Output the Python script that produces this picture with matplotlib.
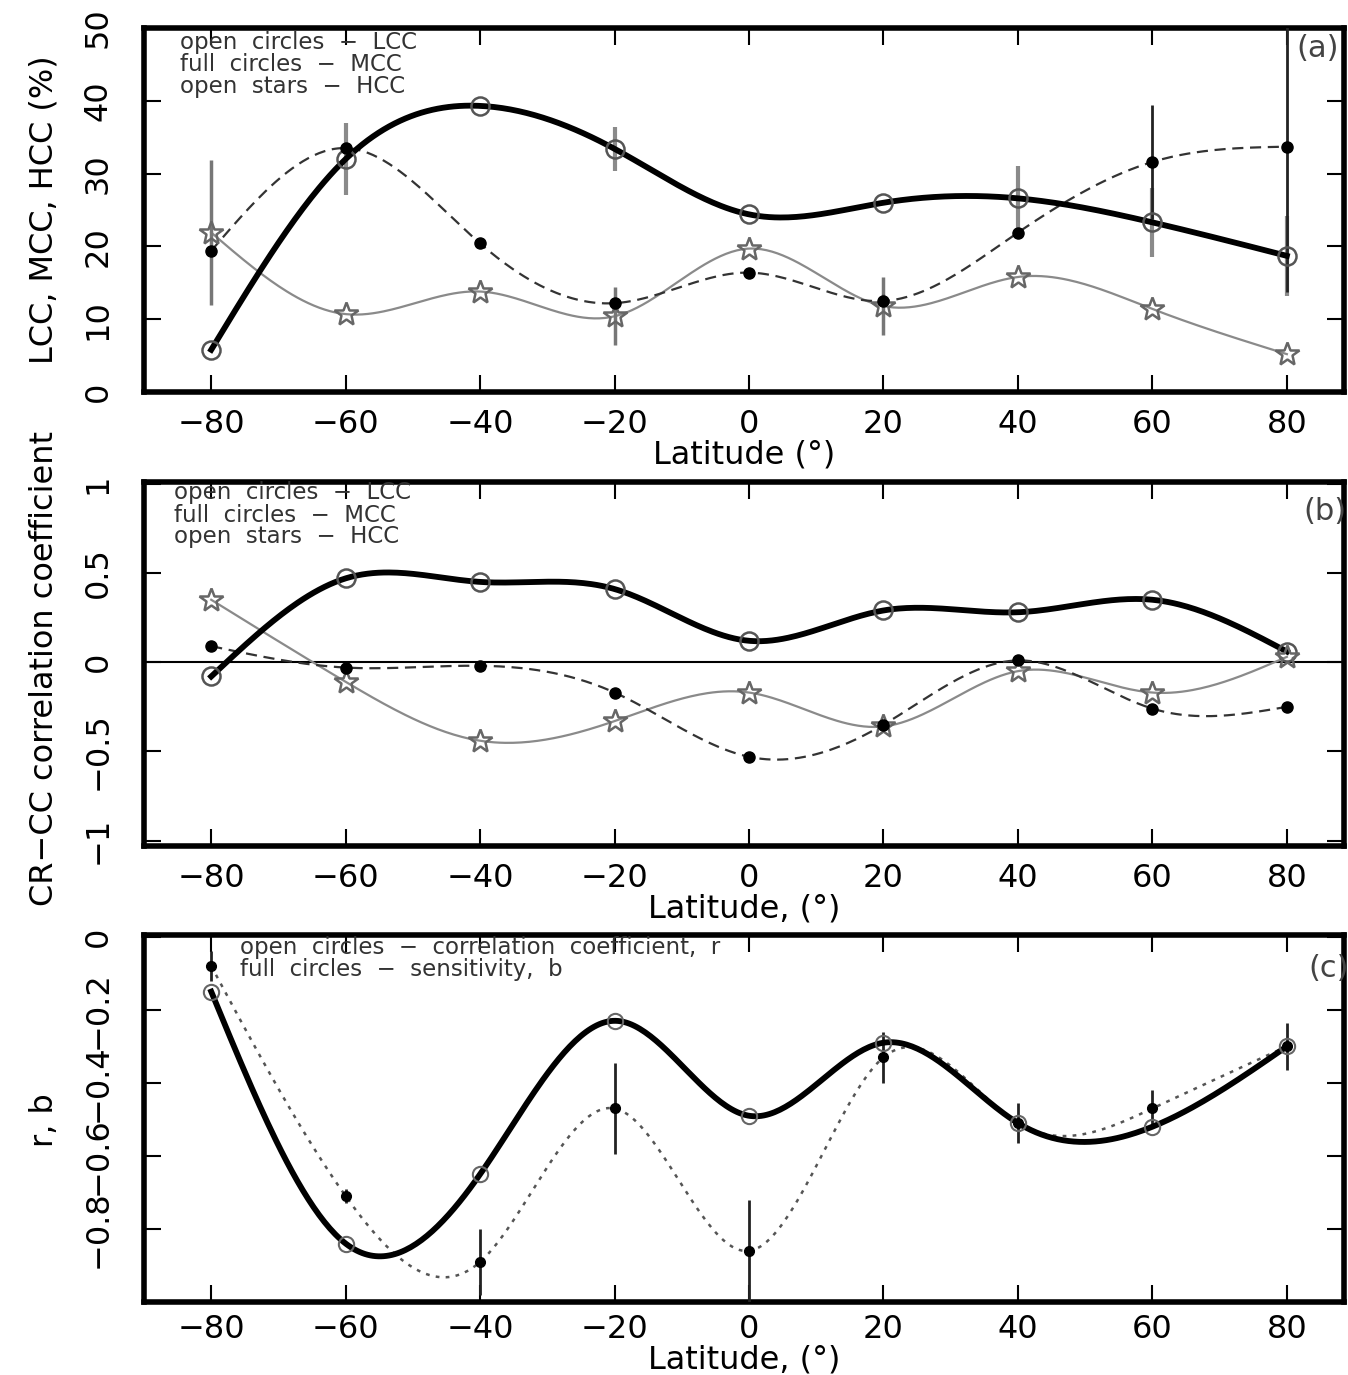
import numpy as np
import matplotlib
matplotlib.use("Agg")
import matplotlib.pyplot as plt

# ============= data =============
lat = np.array([-80, -60, -40, -20, 0, 20, 40, 60, 80])

# (a) cloud cover, %
lcc = [5.8, 32.0, 39.3, 33.4, 24.4, 26.0, 26.6, 23.3, 18.7]
mcc = [19.4, 33.5, 20.4, 12.2, 16.4, 12.5, 21.9, 31.6, 33.7]
hcc = [21.9, 10.7, 13.8, 10.4, 19.7, 11.8, 15.8, 11.4, 5.2]
lcc_err = [0, 5.0, 0, 3.0, 0, 0, 4.5, 4.7, 5.5]
mcc_err = [0, 0, 0, 0, 0, 0, 0, 7.8, 20.0]
hcc_err = [10.0, 0, 0, 4.0, 0, 4.0, 0, 0, 0]

# (b) CR-CC correlation coefficient
lcc_r = [-0.08, 0.47, 0.45, 0.41, 0.12, 0.29, 0.28, 0.35, 0.06]
mcc_r = [0.09, -0.03, -0.02, -0.17, -0.53, -0.35, 0.01, -0.26, -0.25]
hcc_r = [0.35, -0.11, -0.44, -0.33, -0.17, -0.36, -0.05, -0.17, 0.03]

# (c) correlation coefficient r and sensitivity b
r_val = [-0.15, -0.84, -0.65, -0.23, -0.49, -0.29, -0.51, -0.52, -0.30]
b_val = [-0.08, -0.71, -0.89, -0.47, -0.86, -0.33, -0.51, -0.47, -0.30]
b_err = [0.04, 0.02, 0.09, 0.125, 0.14, 0.07, 0.055, 0.05, 0.065]

xticks = [-80, -60, -40, -20, 0, 20, 40, 60, 80]


def smooth(x, y, n=400):
    """natural cubic spline through the points, only used to draw the curve"""
    x = np.asarray(x, float)
    y = np.asarray(y, float)
    h = np.diff(x)
    k = len(x)
    A = np.zeros((k, k))
    rhs = np.zeros(k)
    A[0, 0] = A[-1, -1] = 1
    for i in range(1, k - 1):
        A[i, i - 1] = h[i - 1]
        A[i, i] = 2 * (h[i - 1] + h[i])
        A[i, i + 1] = h[i]
        rhs[i] = 6 * ((y[i + 1] - y[i]) / h[i] - (y[i] - y[i - 1]) / h[i - 1])
    M = np.linalg.solve(A, rhs)
    xs = np.linspace(x[0], x[-1], n)
    idx = np.clip(np.searchsorted(x, xs) - 1, 0, k - 2)
    x0, x1 = x[idx], x[idx + 1]
    hh = x1 - x0
    a = (x1 - xs) / hh
    b = (xs - x0) / hh
    ys = (a * y[idx] + b * y[idx + 1]
          + ((a ** 3 - a) * M[idx] + (b ** 3 - b) * M[idx + 1]) * hh ** 2 / 6)
    return xs, ys


plt.rcParams['font.family'] = ['DejaVu Sans']
W, H = 1348, 1375
fig = plt.figure(figsize=(W / 100, H / 100), dpi=100)


def make_axes(top, bottom):
    left, right = 144, 1344
    return fig.add_axes([left / W, 1 - bottom / H, (right - left) / W, (bottom - top) / H])


def style(ax, ylim, yticks, yticklabels, xlabel, xpad=12, labelpad=0):
    ax.set_xlim(-90, 88.5)
    ax.set_ylim(*ylim)
    ax.set_xticks(xticks)
    ax.set_xticklabels(['\u221280', '\u221260', '\u221240', '\u221220', '0', '20', '40', '60', '80'])
    ax.set_yticks(yticks)
    ax.set_yticklabels(yticklabels, rotation=90, va='center')
    ax.tick_params(axis='both', direction='in', top=True, right=True,
                   length=12, width=1.5, labelsize=23, colors='black')
    ax.tick_params(axis='x', pad=xpad)
    ax.tick_params(axis='y', pad=22)
    for s in ax.spines.values():
        s.set_linewidth(4)
    ax.set_xlabel(xlabel, fontsize=23, labelpad=labelpad)


def legend_text(ax, lines, x, ys):
    for t, y in zip(lines, ys):
        ax.text(x, y, t, transform=ax.transAxes, fontsize=16.5, va='center',
                ha='left', color='#333333')


leg_ab = ['open  circles  \u2212  LCC', 'full  circles  \u2212  MCC', 'open  stars  \u2212  HCC']

# ---------------- (a) ----------------
ax1 = make_axes(28, 392)
xs, ys = smooth(lat, lcc)
ax1.plot(xs, ys, color='black', lw=4.2, zorder=4)
xs, ys = smooth(lat, mcc)
ax1.plot(xs, ys, color='#333333', lw=1.6, ls=(0, (5, 3)), zorder=3)
xs, ys = smooth(lat, hcc)
ax1.plot(xs, ys, color='#8a8a8a', lw=1.6, zorder=2)
ax1.errorbar(lat, lcc, yerr=lcc_err, fmt='none', ecolor='#8a8a8a', elinewidth=3, capsize=0, zorder=3)
ax1.errorbar(lat, mcc, yerr=mcc_err, fmt='none', ecolor='#222222', elinewidth=2, capsize=0, zorder=3)
ax1.errorbar(lat, hcc, yerr=hcc_err, fmt='none', ecolor='#777777', elinewidth=2.5, capsize=0,
             ls=':', zorder=3)
ax1.plot(lat, lcc, ls='none', marker='o', ms=13, mfc='none', mec='#555555', mew=1.8, zorder=5)
ax1.plot(lat, mcc, ls='none', marker='o', ms=8, mfc='black', mec='black', zorder=6)
ax1.plot(lat, hcc, ls='none', marker='*', ms=18, mfc='none', mec='#666666', mew=1.8, zorder=5)
style(ax1, (0, 50), [0, 10, 20, 30, 40, 50], ['0', '10', '20', '30', '40', '50'], 'Latitude (\u00b0)')
legend_text(ax1, leg_ab, 0.03, [0.96, 0.90, 0.84])
ax1.text(0.978, 0.945, '(a)', transform=ax1.transAxes, fontsize=22, ha='center', va='center', color='#444444')
fig.text(0.033, 1 - 210 / H, 'LCC, MCC, HCC (%)', rotation=90, fontsize=23, ha='center', va='center')

# ---------------- (b) ----------------
ax2 = make_axes(482, 846)
ax2.axhline(0, color='black', lw=1.5, zorder=1)
xs, ys = smooth(lat, lcc_r)
ax2.plot(xs, ys, color='black', lw=4.2, zorder=4)
xs, ys = smooth(lat, mcc_r)
ax2.plot(xs, ys, color='#333333', lw=1.6, ls=(0, (5, 3)), zorder=3)
xs, ys = smooth(lat, hcc_r)
ax2.plot(xs, ys, color='#8a8a8a', lw=1.6, zorder=2)
ax2.plot(lat, lcc_r, ls='none', marker='o', ms=13, mfc='none', mec='#555555', mew=1.8, zorder=5)
ax2.plot(lat, mcc_r, ls='none', marker='o', ms=8, mfc='black', mec='black', zorder=6)
ax2.plot(lat, hcc_r, ls='none', marker='*', ms=18, mfc='none', mec='#666666', mew=1.8, zorder=5)
style(ax2, (-1.03, 1.01), [-1, -0.5, 0, 0.5, 1], ['\u22121', '\u22120.5', '0', '0.5', '1'], 'Latitude, (\u00b0)')
legend_text(ax2, leg_ab, 0.025, [0.97, 0.909, 0.849])
ax2.text(0.984, 0.918, '(b)', transform=ax2.transAxes, fontsize=22, ha='center', va='center', color='#444444')
fig.text(0.033, 1 - 668 / H, 'CR\u2212CC correlation coefficient', rotation=90, fontsize=23,
         ha='center', va='center')

# ---------------- (c) ----------------
ax3 = make_axes(935, 1302)
xs, ys = smooth(lat, r_val)
ax3.plot(xs, ys, color='black', lw=4.2, zorder=4)
xs, ys = smooth(lat, b_val)
ax3.plot(xs, ys, color='#555555', lw=1.8, ls=(0, (1.5, 2.5)), zorder=3)
ax3.errorbar(lat, b_val, yerr=b_err, fmt='none', ecolor='#222222', elinewidth=2, capsize=0, zorder=3)
ax3.plot(lat, r_val, ls='none', marker='o', ms=11, mfc='none', mec='#666666', mew=1.5, zorder=5)
ax3.plot(lat, b_val, ls='none', marker='o', ms=7, mfc='black', mec='black', zorder=6)
style(ax3, (-1.0, 0.005), [-0.8, -0.6, -0.4, -0.2, 0],
      ['\u22120.8', '\u22120.6', '\u22120.4', '\u22120.2', '0'], 'Latitude, (\u00b0)', xpad=9, labelpad=-1)
legend_text(ax3, ['open  circles  \u2212  correlation  coefficient,  r',
                  'full  circles  \u2212  sensitivity,  b'],
            0.08, [0.965, 0.905])
ax3.text(0.987, 0.91, '(c)', transform=ax3.transAxes, fontsize=22, ha='center', va='center', color='#444444')
fig.text(0.033, 1 - 1120 / H, 'r, b', rotation=90, fontsize=23, ha='center', va='center')

fig.savefig('out.png', dpi=100)
